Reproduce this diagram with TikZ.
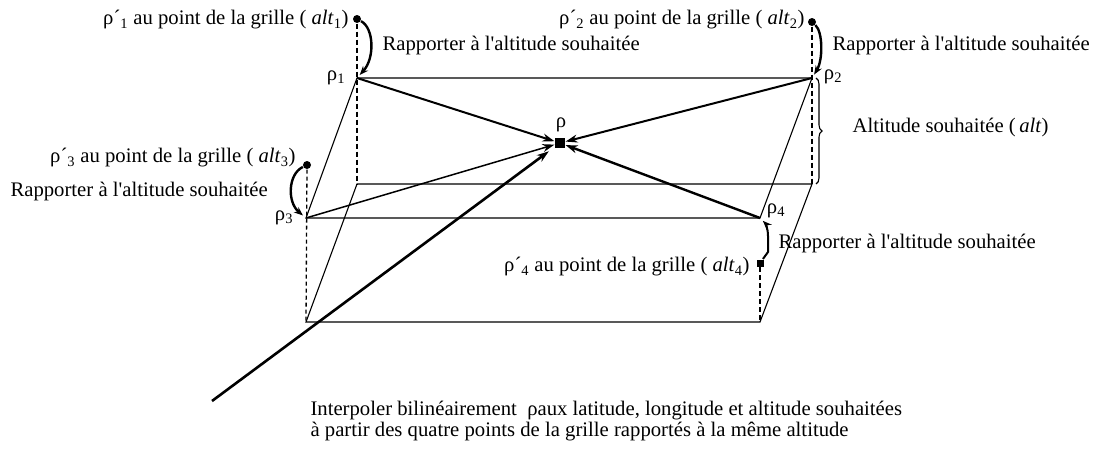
\documentclass[tikz,border=0pt]{standalone}
\usepackage{fontspec}
\setmainfont{Liberation Serif}[Ligatures=TeXOff]
\usetikzlibrary{arrows.meta}
\usetikzlibrary{decorations.pathreplacing}
\tikzset{gridpt/.style = {fill, circle, inner sep = 0, minimum size = 8}}
\tikzset{lbl/.style = {anchor = west, inner sep = 0, font = \fontsize{20.7}{21}\selectfont}}
\tikzset{vdash/.style = {line width = 2.4, dash pattern = on 5 off 3}}
\tikzset{torho/.style = {line width = 2, -{Stealth[length = 12, width = 8]}}}
\tikzset{bendarr/.style = {line width = 2.4, -{Stealth[length = 9, width = 7]}, shorten > = 4}}
\tikzset{every picture/.style={
    every path/.style={line width = 1.1},
}}
\begin{document}
\begin{tikzpicture}[x=1pt, y=-1pt]
  \useasboundingbox (0,0) rectangle (1097,450);
  % plane at the desired altitude
  \coordinate (p1) at (357,78);
  \coordinate (p2) at (812,78);
  \coordinate (p3) at (306,218);
  \coordinate (p4) at (760,218);
  % lower plane
  \coordinate (q1) at (357,184);
  \coordinate (q2) at (812,184);
  \coordinate (q3) at (306,322);
  \coordinate (q4) at (760,322);
  \coordinate (tail) at (212,401);
  % grid points and target point
  \node[gridpt] (pp1) at (357,19) {};
  \node[gridpt] (pp2) at (812,22) {};
  \node[gridpt] (pp3) at (307,165) {};
  \node[fill, inner sep=0, minimum size=7] (pp4) at (760,263) {};
  \node[fill, inner sep=0, minimum size=10] (rho) at (560,143) {};

  \draw (p1) -- (p2) -- (p4) -- (p3) -- cycle;
  \draw (q1) -- (q2) -- (q4) -- (q3) -- cycle;

  \draw[vdash] (pp1) -- (q1);
  \draw[vdash] (pp2) -- (q2);
  \draw[line width=1.3, dash pattern=on 4 off 3] (pp3) -- (q3);
  \draw[vdash] (pp4) -- (q4);

  \draw[decorate, decoration={brace, amplitude=6}] ([xshift=4]p2) -- ([xshift=4]q2);

  \draw[torho] (p1) -- (rho);
  \draw[torho] (p2) -- (rho);
  \draw[torho, line width=1.5] (p3) -- (rho);
  \draw[torho, line width=2.4] (p4) -- (rho);
  \draw[torho, line width=2.6, shorten >=7] (tail) -- (rho);

  \draw[bendarr] (pp1) .. controls (374,28) and (375,58) .. (p1);
  \draw[bendarr] (pp2) .. controls (823,32) and (823,60) .. (p2);
  \draw[bendarr] (pp3) .. controls (288,174) and (287,202) .. (p3);
  \draw[bendarr, line width=2] (pp4) -- ++(8,-11) -- ++(0,-16) .. controls +(0,-8) and +(5,5) .. (p4);

  % labels
  \node[lbl, anchor=east] (t1) at (349,20) {ρ´\textsubscript{1} au point de la grille ( \textit{alt}\textsubscript{1})};
  \node[lbl] (r1) at (382,46) {Rapporter à l'altitude souhaitée};
  \node[lbl, anchor=east] (t2) at (805,20) {ρ´\textsubscript{2} au point de la grille ( \textit{alt}\textsubscript{2})};
  \node[lbl] (r2) at (832,46) {Rapporter à l'altitude souhaitée};
  \node[lbl, anchor=east] (t3) at (296,158) {ρ´\textsubscript{3} au point de la grille ( \textit{alt}\textsubscript{3})};
  \node[lbl] (r3) at (10,192) {Rapporter à l'altitude souhaitée};
  \node[lbl] (r4) at (778,244) {Rapporter à l'altitude souhaitée};
  \node[lbl, anchor=east] (t4) at (750,267) {ρ´\textsubscript{4} au point de la grille ( \textit{alt}\textsubscript{4})};
  \node[lbl] (alt) at (852,128) {Altitude souhaitée (\,\textit{alt})};
  \node[lbl, anchor=center] (l1) at (336,78) {ρ\textsubscript{1}};
  \node[lbl, anchor=center] (l2) at (833,77) {ρ\textsubscript{2}};
  \node[lbl, anchor=center] (l3) at (284,218) {ρ\textsubscript{3}};
  \node[lbl, anchor=center] (l4) at (776,211) {ρ\textsubscript{4}};
  \node[lbl, anchor=center] (l0) at (561,125) {ρ};
  \node[lbl, align=left] (note) at (310,421) {Interpoler bilinéairement~ ρaux latitude, longitude et altitude souhaitées\\
    à partir des quatre points de la grille rapportés à la même altitude};
\end{tikzpicture}
\end{document}
